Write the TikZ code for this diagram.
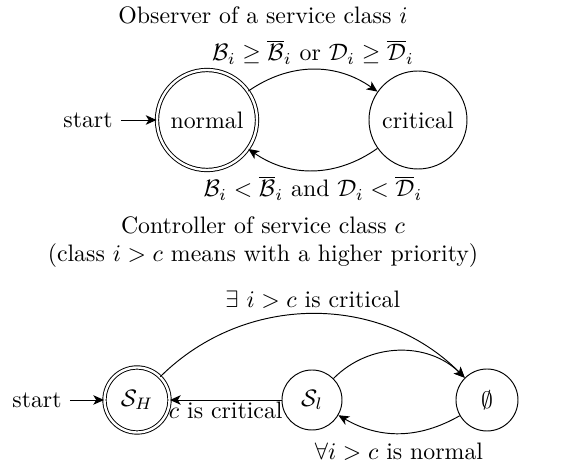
\documentclass[tikz,border=0pt]{standalone}
\usetikzlibrary{arrows.meta,automata}
\begin{document}
\begin{tikzpicture}[x=0.42pt,y=-0.42pt,
  st/.style={circle,draw,inner sep=0pt},
  trans/.style={-{Stealth[length=4.5pt,width=4pt,inset=1.2pt]}},
  lbl/.style={inner sep=2pt}]
\useasboundingbox (0,0) rectangle (563,470);
% Observer
\node (t1) at (263,15) {Observer of a service class $i$};
\node[st,double,double distance=1pt,minimum size=100*0.42pt] (normal) at (207,120) {normal};
\node[st,minimum size=98*0.42pt] (crit) at (418,120) {critical};
\node (s1) at (88,120) {start};
\draw[trans] (s1) -- (normal);
\draw[trans] (normal) to[bend left=35] node[above,lbl] {$\mathcal{B}_i \geq \overline{\mathcal{B}}_i$ or $\mathcal{D}_i \geq \overline{\mathcal{D}}_i$} (crit);
\draw[trans] (crit) to[bend left=35] node[below,lbl] {$\mathcal{B}_i < \overline{\mathcal{B}}_i$ and $\mathcal{D}_i < \overline{\mathcal{D}}_i$} (normal);
% Controller
\node[align=center] (t2) at (263,242) {Controller of service class $c$\\(class $i>c$ means with a higher priority)};
\node[st,double,double distance=1pt,minimum size=65*0.42pt] (SH) at (137,400) {$\mathcal{S}_H$};
\node[st,minimum size=60*0.42pt] (Sl) at (312,400) {$\mathcal{S}_l$};
\node[st,minimum size=62*0.42pt] (E) at (487,400) {$\emptyset$};
\node (s2) at (37,400) {start};
\draw[trans] (s2) -- (SH);
\draw[trans] (SH) to[bend left=45] node[above,lbl] {$\exists\ i>c$ is critical} (E);
\draw[trans] (Sl) to[bend left=45] (E);
\draw[trans] (E) to[bend left=30] node[below,lbl,yshift=-2pt] {$\forall i>c$ is normal} (Sl);
\draw[trans] (Sl) -- node[below,inner sep=0.5pt] {$c$ is critical} (SH);
\end{tikzpicture}
\end{document}
